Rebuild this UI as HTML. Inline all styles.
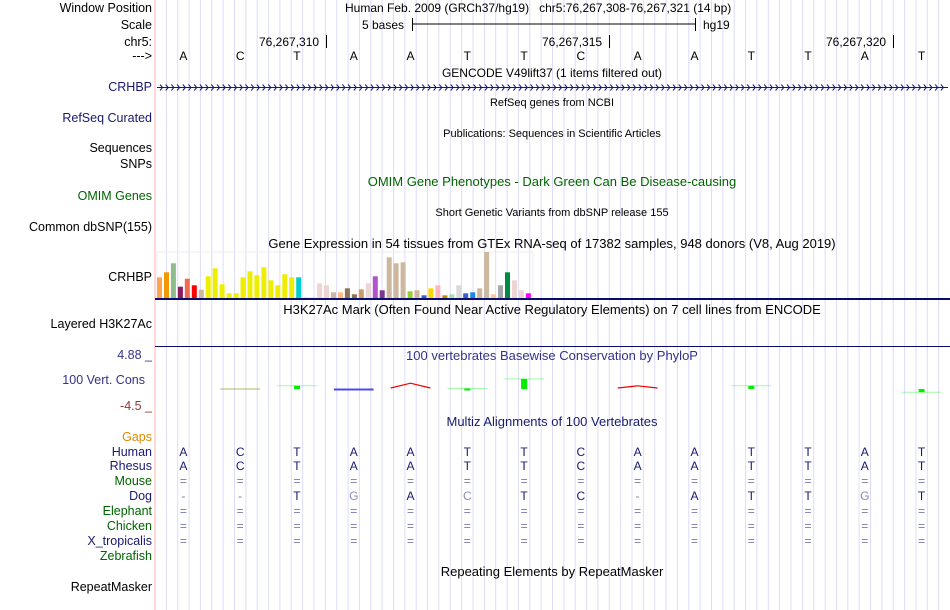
<!DOCTYPE html>
<html><head><meta charset="utf-8">
<style>
body{margin:0;background:#fff;}
#root{position:relative;width:950px;height:610px;overflow:hidden;font-family:"Liberation Sans",sans-serif;background:#fff;}
.t{position:absolute;white-space:nowrap;font-size:12px;line-height:14px;}
.l{position:absolute;right:798px;white-space:nowrap;font-size:12.5px;line-height:14px;text-align:right;}
.c{position:absolute;white-space:nowrap;font-size:13px;line-height:14px;transform:translateX(-50%);}
.b{font-size:12px;}
.s{font-size:11px;}
svg{position:absolute;left:0;top:0;}
</style></head><body>
<div id="root">
<svg id="svg" width="950" height="610"></svg>

<div class="l" style="top:1px">Window Position</div>
<div class="l" style="top:18px">Scale</div>
<div class="l" style="top:35px">chr5:</div>
<div class="l" style="top:49px">---&gt;</div>
<div class="l" style="top:80px;color:#191970">CRHBP</div>
<div class="l" style="top:111px;color:#191970">RefSeq Curated</div>
<div class="l" style="top:141px">Sequences</div>
<div class="l" style="top:157px">SNPs</div>
<div class="l" style="top:189px;color:#006400">OMIM Genes</div>
<div class="l" style="top:220px">Common dbSNP(155)</div>
<div class="l" style="top:270px">CRHBP</div>
<div class="l" style="top:317px">Layered H3K27Ac</div>
<div class="l" style="top:348px;color:#333388">4.88 _</div>
<div class="l" style="top:373px;color:#333388;right:805px">100 Vert. Cons</div>
<div class="l" style="top:399px;color:#8b3a3a">-4.5 _</div>
<div class="l" style="top:430px;color:#e08a00">Gaps</div>
<div class="l" style="top:445px;color:#191970">Human</div>
<div class="l" style="top:459px;color:#191970">Rhesus</div>
<div class="l" style="top:474px;color:#006400">Mouse</div>
<div class="l" style="top:489px;color:#191970">Dog</div>
<div class="l" style="top:504px;color:#006400">Elephant</div>
<div class="l" style="top:519px;color:#006400">Chicken</div>
<div class="l" style="top:534px;color:#191970">X_tropicalis</div>
<div class="l" style="top:549px;color:#006400">Zebrafish</div>
<div class="l" style="top:580px">RepeatMasker</div>

<div class="t" style="left:345px;top:1px">Human Feb. 2009 (GRCh37/hg19)&nbsp;&nbsp;&nbsp;chr5:76,267,308-76,267,321 (14 bp)</div>
<div class="t" style="left:362px;top:18px">5 bases</div>
<div class="t" style="left:703px;top:18px">hg19</div>
<div class="t" style="left:259px;top:35px">76,267,310</div>
<div class="t" style="left:542px;top:35px">76,267,315</div>
<div class="t" style="left:826px;top:35px">76,267,320</div>
<div class="c b" style="left:552px;top:66px">GENCODE V49lift37 (1 items filtered out)</div>
<div class="c s" style="left:552px;top:96px">RefSeq genes from NCBI</div>
<div class="c s" style="left:552px;top:127px">Publications: Sequences in Scientific Articles</div>
<div class="c" style="left:552px;top:175px;color:#006400">OMIM Gene Phenotypes - Dark Green Can Be Disease-causing</div>
<div class="c s" style="left:552px;top:206px">Short Genetic Variants from dbSNP release 155</div>
<div class="c" style="left:552px;top:237px">Gene Expression in 54 tissues from GTEx RNA-seq of 17382 samples, 948 donors (V8, Aug 2019)</div>
<div class="c" style="left:552px;top:303px">H3K27Ac Mark (Often Found Near Active Regulatory Elements) on 7 cell lines from ENCODE</div>
<div class="c" style="left:552px;top:349px;color:#333388">100 vertebrates Basewise Conservation by PhyloP</div>
<div class="c" style="left:552px;top:415px;color:#191970">Multiz Alignments of 100 Vertebrates</div>
<div class="c" style="left:552px;top:565px">Repeating Elements by RepeatMasker</div>
</div>
<script>
const bases = ["A","C","T","A","A","T","T","C","A","A","T","T","A","T"];
const gtexValues = [62,77,104,34,58,38,25,65,89,41,14,14,62,80,68,92,53,38,71,62,62,2,2,44,38,17,17,29,11,26,44,65,23,122,104,107,20,23,8,29,38,8,11,38,14,17,29,138,11,38,77,53,23,14];
const gtexColors = ["#ffa54f","#ee9a00","#8fbc8f","#8b1c62","#ee6a50","#ff0000","#cdb79e","#eeee00","#eeee00","#eeee00","#eeee00","#eeee00","#eeee00","#eeee00","#eeee00","#eeee00","#eeee00","#eeee00","#eeee00","#eeee00","#00cdcd","#dddddd","#dddddd","#eed5d2","#eed5d2","#cdb79e","#ffbe7d","#8b7355","#8b7355","#cd9b69","#eed5d2","#b452cd","#7a378b","#cdb79e","#cdb79e","#cdb79e","#9acd32","#cdb79e","#3a5fcd","#ffd700","#ffb6c1","#cd8500","#9ee6a0","#d9d9d9","#3a5fcd","#1c86ee","#cdb79e","#cdb79e","#fbc896","#a6a6a6","#008b45","#eed5d2","#eed5d2","#ff00ff"];
const consValues = [null,0.0,0.6,-0.1,1.1,0.1,1.9,null,0.6,null,0.6,null,null,-0.6];
const consColors = [null,"#a0a040","#00ee00","#2222dd","#ee0000","#00ee00","#00ee00",null,"#ee0000",null,"#00ee00",null,null,"#00ee00"];
const alignRows = [
 "ACTAATTCAATTAT",
 "ACTAATTCAATTAT",
 "==============",
 "--TGACTC-ATTGT",
 "==============",
 "==============",
 "=============="];

const NS="http://www.w3.org/2000/svg";
const svg=document.getElementById('svg');
const X0=155, X1=950, BW=(X1-X0)/bases.length;
const bx=i=>X0+BW*(i+0.5);
function el(tag,attrs){const e=document.createElementNS(NS,tag);for(const k in attrs)e.setAttribute(k,attrs[k]);svg.appendChild(e);return e;}
for(let x=X0+BW/5;x<X1;x+=BW/5){const g=el('line',{x1:x.toFixed(1),x2:x.toFixed(1),y1:0,y2:610,stroke:'#dcdcf8','stroke-width':1});

}
const bd=el('line',{x1:155,x2:155,y1:0,y2:610,stroke:'#ffb0b0','stroke-width':1});


el('line',{x1:412,x2:695,y1:24,y2:24,stroke:'#000'});
el('line',{x1:412.5,x2:412.5,y1:18,y2:31,stroke:'#000'});
el('line',{x1:695.5,x2:695.5,y1:18,y2:31,stroke:'#000'});
[326.5,609.5,893.5].forEach(x=>el('line',{x1:x,x2:x,y1:35,y2:48,stroke:'#000'}));
el('line',{x1:157,x2:948,y1:87.5,y2:87.5,stroke:'#191970'});
for(let x=160;x<946;x+=5.7){el('polyline',{points:`${x.toFixed(1)},84.5 ${(x+2.5).toFixed(1)},87.5 ${x.toFixed(1)},90.5`,fill:'none',stroke:'#191970','stroke-width':1});}
el('rect',{x:157,y:252,width:376,height:46,fill:'none',stroke:'#eeeeee'});
const gmax=Math.max(...gtexValues), GB=298, GH=46;
gtexValues.forEach((v,i)=>{const h=v/gmax*GH;const r=el('rect',{x:(157+i*6.96).toFixed(1),y:(GB-h).toFixed(1),width:5,height:h.toFixed(1),fill:gtexColors[i]});

});
el('rect',{x:155,y:298,width:795,height:2,fill:'#0b0b6e'});
el('rect',{x:155,y:346,width:795,height:1,fill:'#0b0b6e'});
const Z=389, PX=5.3;
consValues.forEach((v,i)=>{if(v===null)return;const c=bx(i),w=BW*0.7,y=Z-v*PX,col=consColors[i];
 if(col==="#ee0000"){const p=el('polyline',{points:`${c-w/2},${Z-1} ${c},${y.toFixed(1)} ${c+w/2},${Z-1}`,fill:'none',stroke:col,'stroke-width':1.2});
 
 return;}
 const ln=el('line',{x1:c-w/2,x2:c+w/2,y1:y.toFixed(1),y2:y.toFixed(1),stroke:col,'stroke-opacity':col==="#00ee00"?0.35:0.8,'stroke-width':col==="#2222dd"?2:1});
 
 
 if(col==="#00ee00"&&Math.abs(v)>0.05){const top=Math.min(y,Z),h=Math.max(2,Math.abs(Z-y));const b=el('rect',{x:(c-3).toFixed(1),y:top.toFixed(1),width:6,height:h.toFixed(1),fill:col});
 
 }
});
const root=document.getElementById('root');
function txt(s,x,y,color,name){const d=document.createElement('div');d.className='c b';d.style.left=x+'px';d.style.top=y+'px';d.style.color=color;d.textContent=s;


root.appendChild(d);}
bases.forEach((b,i)=>txt(b,bx(i),49,'#000','ref-base'));
const rowY=[445,459,474,489,504,519,534];
alignRows.forEach((row,r)=>{[...row].forEach((ch,i)=>{let col='#191970';
 if(ch==='='||ch==='-')col='#7878a8';
 else if(ch!==bases[i])col='#8c8cb8';
 txt(ch,bx(i),rowY[r],col,'align-base');});});
</script>
</body></html>
